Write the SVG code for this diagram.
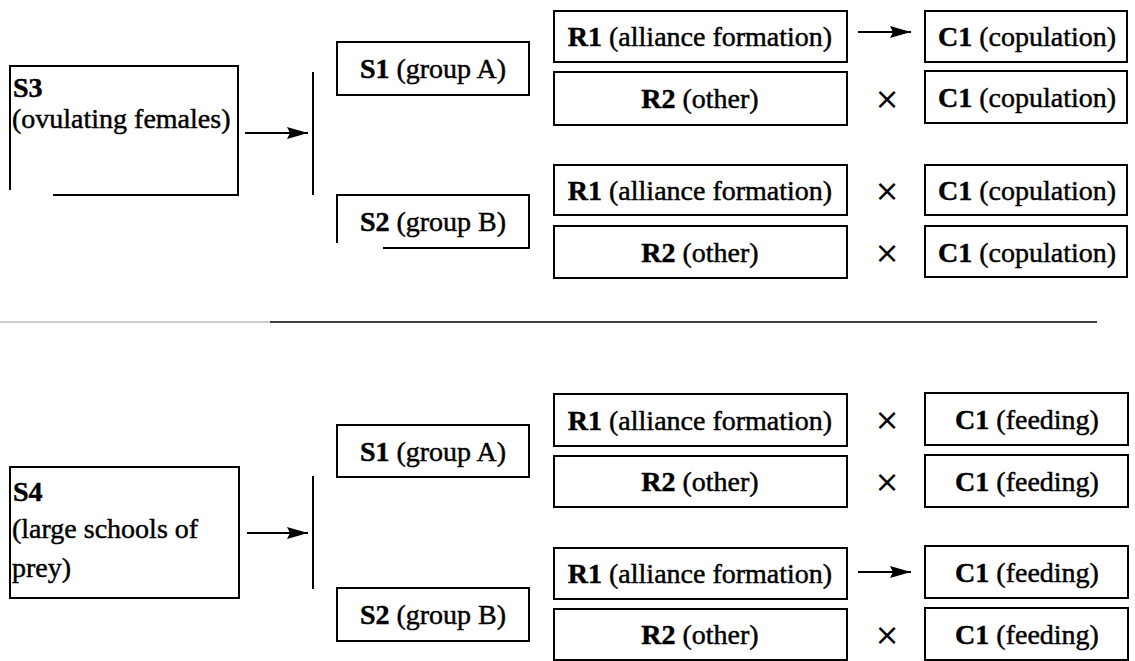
<svg xmlns="http://www.w3.org/2000/svg" width="1135" height="661" viewBox="0 0 1135 661">
<defs>
<marker id="ah" viewBox="0 0 21 12" refX="21" refY="6" markerWidth="21" markerHeight="12" markerUnits="userSpaceOnUse" orient="auto">
<path d="M0,0 L21,6 L0,12 L3,6 Z" fill="#000"/>
</marker>
</defs>
<style>
.box{fill:#fff;stroke:#000;stroke-width:2}
text.t{font-family:"Liberation Serif","Times New Roman",serif;font-size:28px;fill:#000;stroke:#000;stroke-width:0.45}
.c{text-anchor:middle}
tspan.b{font-weight:bold}
.x{font-family:"DejaVu Sans",sans-serif;font-size:30px;text-anchor:middle;fill:#000}
.ln{stroke:#000;stroke-width:2;fill:none}
.ar{stroke:#000;stroke-width:2;fill:none;marker-end:url(#ah)}
</style>
<rect width="1135" height="661" fill="#fff"/>

<g id="S3">
<path class="ln" d="M10,190 V66 H238 V195 H53"/>
<text class="t" x="13" y="97"><tspan class="b">S3</tspan></text>
<text class="t" x="12" y="128">(ovulating females)</text>
</g>
<g id="bar1"><line class="ln" x1="313" y1="72" x2="313" y2="195"/></g>
<g id="S1a"><rect class="box" x="337" y="42" width="192" height="53"/><text class="t c" x="433" y="78"><tspan class="b">S1</tspan> (group A)</text></g>
<g id="S2a"><path class="ln" d="M337,243 V195 H529 V248 H383"/><text class="t c" x="433" y="231"><tspan class="b">S2</tspan> (group B)</text></g>

<g id="R1a"><rect class="box" x="554" y="11" width="293" height="51"/><text class="t c" x="700" y="46"><tspan class="b">R1</tspan> (alliance formation)</text></g>
<g id="R2a"><rect class="box" x="554" y="72" width="293" height="53"/><text class="t c" x="700" y="108"><tspan class="b">R2</tspan> (other)</text></g>
<g id="R1b"><rect class="box" x="554" y="165" width="293" height="50"/><text class="t c" x="700" y="200"><tspan class="b">R1</tspan> (alliance formation)</text></g>
<g id="R2b"><rect class="box" x="554" y="226" width="293" height="52"/><text class="t c" x="700" y="262"><tspan class="b">R2</tspan> (other)</text></g>

<g id="C1a"><rect class="box" x="925" y="11" width="202" height="51"/><text class="t c" x="1027" y="46"><tspan class="b">C1</tspan> (copulation)</text></g>
<g id="C1b"><rect class="box" x="925" y="71" width="202" height="52"/><text class="t c" x="1027" y="107"><tspan class="b">C1</tspan> (copulation)</text></g>
<g id="C1c"><rect class="box" x="925" y="165" width="202" height="50"/><text class="t c" x="1027" y="200"><tspan class="b">C1</tspan> (copulation)</text></g>
<g id="C1d"><rect class="box" x="925" y="226" width="202" height="51"/><text class="t c" x="1027" y="262"><tspan class="b">C1</tspan> (copulation)</text></g>

<g id="sep">
<line x1="0" y1="322" x2="270" y2="322" stroke="#999" stroke-width="1"/>
<line x1="270" y1="322" x2="1097" y2="322" stroke="#000" stroke-width="1.5"/>
</g>

<g id="S4">
<rect class="box" x="10" y="467" width="229" height="131"/>
<text class="t" x="13" y="501"><tspan class="b">S4</tspan></text>
<text class="t" x="12" y="538">(large schools of</text>
<text class="t" x="12" y="577">prey)</text>
</g>
<g id="bar2"><line class="ln" x1="313" y1="476" x2="313" y2="589"/></g>
<g id="S1b"><rect class="box" x="337" y="425" width="192" height="52"/><text class="t c" x="433" y="461"><tspan class="b">S1</tspan> (group A)</text></g>
<g id="S2b"><rect class="box" x="337" y="588" width="192" height="53"/><text class="t c" x="433" y="624"><tspan class="b">S2</tspan> (group B)</text></g>

<g id="R1c"><rect class="box" x="554" y="394" width="293" height="52"/><text class="t c" x="700" y="430"><tspan class="b">R1</tspan> (alliance formation)</text></g>
<g id="R2c"><rect class="box" x="554" y="456" width="293" height="51"/><text class="t c" x="700" y="491"><tspan class="b">R2</tspan> (other)</text></g>
<g id="R1d"><rect class="box" x="554" y="548" width="293" height="51"/><text class="t c" x="700" y="583"><tspan class="b">R1</tspan> (alliance formation)</text></g>
<g id="R2d"><rect class="box" x="554" y="609" width="293" height="51"/><text class="t c" x="700" y="644"><tspan class="b">R2</tspan> (other)</text></g>

<g id="C1e"><rect class="box" x="925" y="393" width="203" height="52"/><text class="t c" x="1027" y="429"><tspan class="b">C1</tspan> (feeding)</text></g>
<g id="C1f"><rect class="box" x="925" y="455" width="203" height="52"/><text class="t c" x="1027" y="491"><tspan class="b">C1</tspan> (feeding)</text></g>
<g id="C1g"><rect class="box" x="925" y="546" width="203" height="52"/><text class="t c" x="1027" y="582"><tspan class="b">C1</tspan> (feeding)</text></g>
<g id="C1h"><rect class="box" x="925" y="608" width="203" height="52"/><text class="t c" x="1027" y="644"><tspan class="b">C1</tspan> (feeding)</text></g>

<g id="connectors">
<line class="ar" x1="245" y1="133" x2="308" y2="133"/>
<line class="ar" x1="858" y1="32" x2="911" y2="32"/>
<line class="ar" x1="247" y1="533" x2="308" y2="533"/>
<line class="ar" x1="858" y1="572" x2="911" y2="572"/>
<text class="x" x="887" y="109">×</text>
<text class="x" x="887" y="201">×</text>
<text class="x" x="887" y="263">×</text>
<text class="x" x="887" y="430">×</text>
<text class="x" x="887" y="492">×</text>
<text class="x" x="887" y="645">×</text>
</g>
</svg>
